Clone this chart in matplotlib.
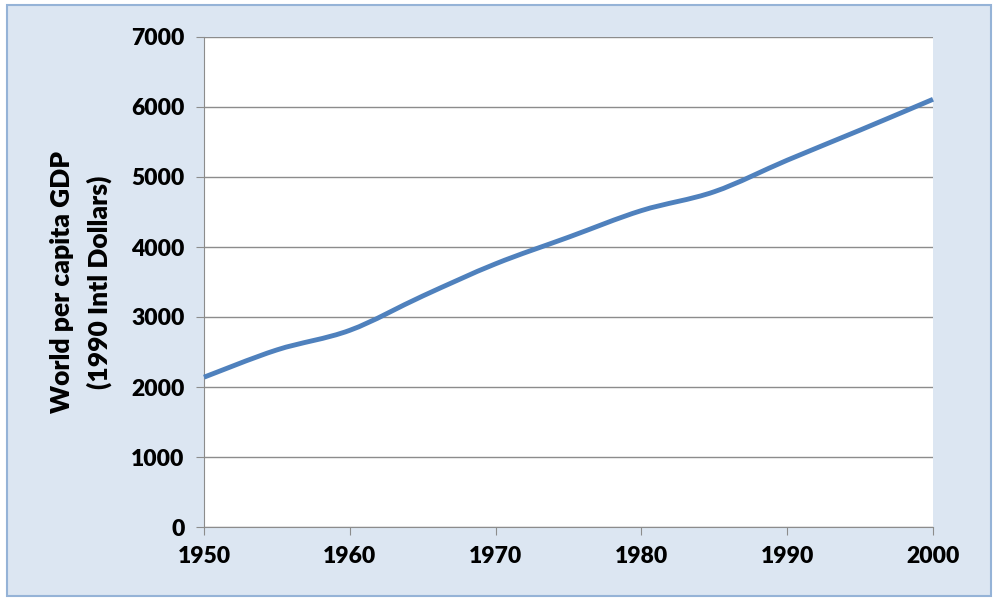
import numpy as np
import matplotlib.pyplot as plt
from matplotlib.patches import Rectangle, PathPatch
from matplotlib.path import Path

years = [1950, 1955, 1960, 1965, 1970, 1975, 1980, 1985, 1990, 1995, 2000]
gdp = [2140, 2530, 2810, 3300, 3760, 4140, 4520, 4790, 5240, 5670, 6110]

plt.rcParams['font.family'] = ['Lato', 'DejaVu Sans']

fig = plt.figure(figsize=(10, 6.04), dpi=100)
fig.patch.set_facecolor('white')
# outer chart frame
fig.patches.append(Rectangle((7 / 1000, 1 - 596 / 604), 984 / 1000, 591 / 604,
                             transform=fig.transFigure, facecolor='#dce6f2',
                             edgecolor='#95b3d7', linewidth=1.5, zorder=-1))

ax = fig.add_axes([204 / 1000, 1 - 527 / 604, 729 / 1000, 490 / 604])
ax.set_facecolor('white')

# smoothed line like a spreadsheet "smoothed line" (bezier through the data points)
x = np.array(years, dtype=float)
y = np.array(gdp, dtype=float)
verts = [(x[0], y[0])]
codes = [Path.MOVETO]
n = len(x)
for i in range(n - 1):
    x0, y0 = (x[i - 1], y[i - 1]) if i > 0 else (x[i], y[i])
    x3, y3 = (x[i + 2], y[i + 2]) if i + 2 < n else (x[i + 1], y[i + 1])
    c1 = (x[i] + (x[i + 1] - x0) / 6, y[i] + (y[i + 1] - y0) / 6)
    c2 = (x[i + 1] - (x3 - x[i]) / 6, y[i + 1] - (y3 - y[i]) / 6)
    verts += [c1, c2, (x[i + 1], y[i + 1])]
    codes += [Path.CURVE4] * 3
ax.add_patch(PathPatch(Path(verts, codes), facecolor='none', edgecolor='#4f81bd',
                       linewidth=3.5, capstyle='butt', zorder=3, clip_on=False))

ax.set_xlim(1950, 2000)
ax.set_ylim(0, 7000)
ax.set_xticks(range(1950, 2001, 10))
ax.set_yticks(range(0, 7001, 1000))
ax.grid(axis='y', color='#8c8c8c', linewidth=1)
ax.set_axisbelow(True)
for s in ['top', 'right']:
    ax.spines[s].set_visible(False)
for s in ['left', 'bottom']:
    ax.spines[s].set_color('#8c8c8c')
ax.tick_params(axis='both', colors='#8c8c8c', labelcolor='black', labelsize=16.5,
               direction='out', length=6)
ax.tick_params(axis='x', pad=8)
ax.tick_params(axis='y', pad=8)
for lab in ax.get_xticklabels() + ax.get_yticklabels():
    lab.set_fontweight('heavy')

ax.set_ylabel('World per capita GDP\n(1990 Intl Dollars)', fontsize=19,
              fontweight='heavy', labelpad=14, linespacing=1.6)

fig.savefig('out.png', dpi=100)
